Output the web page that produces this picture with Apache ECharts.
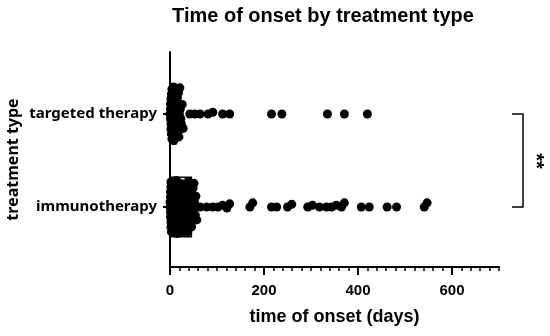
<!DOCTYPE html>
<html><head><meta charset="utf-8">
<script src="https://cdn.jsdelivr.net/npm/echarts@6/dist/echarts.min.js"></script>
<style>html,body{margin:0;padding:0;background:#fff}#c{width:550px;height:336px}</style>
</head><body><div id="c"></div>
<script>
// ---- data ----
const categories = ['immunotherapy', 'targeted therapy']; // bottom -> top
const immunotherapyDays = [
  0,0,1,1,1,1,2,2,2,2,3,3,3,4,4,4,5,5,5,6,6,6,7,7,7,8,8,9,9,10,10,10,11,11,12,12,13,13,14,14,15,15,16,16,17,18,18,19,20,20,21,21,22,23,24,25,25,26,27,28,29,30,30,31,32,33,34,35,36,37,38,39,40,41,42,43,44,45,46,
  48,49,50,51,52,54,55,57,64,78,91,102,112,121,127,170,176,216,227,250,259,293,303,318,333,344,354,365,371,407,424,462,482,541,547
];
const targetedDays = [
  0,1,1,1,2,2,2,3,3,4,4,5,5,6,6,7,7,8,8,9,10,10,11,12,13,14,15,16,17,18,19,20,21,22,23,24,26,
  28,42,53,64,81,91,112,127,216,238,335,371,420
];
const barValues = [47, 15]; // bar end per category (same order as categories)
const xMajorTicks = [0, 200, 400, 600];
const significance = '**';

const FONT_A = '"Liberation Sans", Arial, sans-serif';
const FONT_B = '"Noto Sans", "Open Sans", sans-serif';

const chart = echarts.init(document.getElementById('c'), null, {renderer: 'canvas'});

const GL = 170, GW = 329;
const option = {
  animation: false,
  backgroundColor: '#fff',
  title: {
    text: 'Time of onset by treatment type',
    left: 318, top: 1, textAlign: 'center',
    textStyle: {fontFamily: FONT_A, fontWeight: 'bold', fontSize: 20, color: '#000'}
  },
  grid: [
    {left: GL, width: GW, top: 52, height: 215, outerBoundsMode: 'none', containLabel: false},              // frame
    {left: GL, width: GW, top: 67.5, height: 186, outerBoundsMode: 'none', containLabel: false},            // data
    {left: GL, width: GW * 600 / 700, top: 52, height: 215, outerBoundsMode: 'none', containLabel: false}   // major tick labels
  ],
  xAxis: [
    {
      gridIndex: 0, type: 'value', min: 0, max: 700, interval: 20,
      axisLine: {show: true, lineStyle: {color: '#000', width: 2}},
      axisTick: {show: true, length: 4, lineStyle: {color: '#000', width: 1.5}},
      axisLabel: {show: false}, splitLine: {show: false},
      name: 'time of onset (days)', nameLocation: 'middle', nameGap: 41,
      nameTextStyle: {fontFamily: FONT_A, fontWeight: 'bold', fontSize: 18, color: '#000'}
    },
    {
      gridIndex: 1, type: 'value', min: 0, max: 700, show: false
    },
    {
      gridIndex: 2, type: 'value', min: 0, max: 600, interval: 200,
      axisLine: {show: false},
      axisTick: {show: true, length: 8, lineStyle: {color: '#000', width: 2}},
      axisLabel: {show: true, margin: 16, color: '#000', fontFamily: FONT_A, fontWeight: 'bold', fontSize: 15,
        formatter: v => xMajorTicks.indexOf(v) >= 0 ? String(v) : ''},
      splitLine: {show: false}
    }
  ],
  yAxis: [
    {
      gridIndex: 0, type: 'value', min: 0, max: 1,
      axisLine: {show: true, lineStyle: {color: '#000', width: 2}},
      axisTick: {show: false}, axisLabel: {show: false}, splitLine: {show: false},
      name: 'treatment type', nameLocation: 'middle', nameGap: 149, nameRotate: 90,
      nameTextStyle: {fontFamily: FONT_B, fontWeight: 'bold', fontSize: 16, color: '#000'}
    },
    {
      gridIndex: 1, type: 'category', data: categories,
      jitter: 54, jitterOverlap: false, jitterMargin: -4,
      axisLine: {show: false},
      axisTick: {show: true, alignWithLabel: true, length: 7, lineStyle: {color: '#000', width: 2}},
      axisLabel: {margin: 13, color: '#000', fontFamily: FONT_B, fontWeight: 'bold', fontSize: 15},
      splitLine: {show: false}
    },
    {
      gridIndex: 2, type: 'value', show: false
    }
  ],
  series: [
    {
      type: 'bar', xAxisIndex: 1, yAxisIndex: 1, z: 2,
      data: barValues, barWidth: 61,
      itemStyle: {color: 'rgba(255,255,255,0)', borderColor: '#000', borderWidth: 1.5}
    },
    {
      type: 'scatter', xAxisIndex: 1, yAxisIndex: 1, z: 3,
      symbolSize: 9, itemStyle: {color: '#000', opacity: 1},
      data: immunotherapyDays.map(v => [v, categories[0]]).concat(targetedDays.map(v => [v, categories[1]]))
    }
  ]
};
chart.setOption(option);

// significance bracket between the two categories
const yTop = chart.convertToPixel({yAxisIndex: 1}, categories[1]);
const yBot = chart.convertToPixel({yAxisIndex: 1}, categories[0]);
const bx = 523;
chart.setOption({
  graphic: [
    {type: 'polyline', shape: {points: [[bx - 11, yTop], [bx, yTop], [bx, yBot], [bx - 11, yBot]]},
      style: {stroke: '#000', lineWidth: 1.5, fill: null}},
    {type: 'text', x: 536, y: (yTop + yBot) / 2 + 0.5, rotation: -Math.PI / 2,
      style: {text: significance, fill: '#000', font: 'bold 20px ' + FONT_A, align: 'center', verticalAlign: 'middle'}}
  ]
});
</script>
</body></html>
